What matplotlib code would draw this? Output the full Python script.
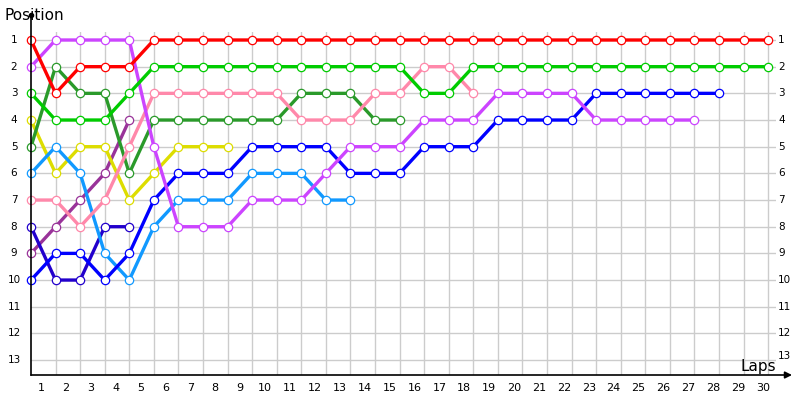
'''
Lap chart: position of each car after every lap.
'''

import matplotlib
matplotlib.use('Agg')
import numpy as np
from matplotlib import pyplot as plt

######################

# position after each lap, starting at lap 0 (grid)
red = [1, 3, 2, 2, 2, 1, 1, 1, 1, 1, 1, 1, 1, 1, 1, 1, 1, 1, 1, 1, 1, 1, 1, 1, 1, 1, 1, 1, 1, 1, 1]
light_green = [3, 4, 4, 4, 3, 2, 2, 2, 2, 2, 2, 2, 2, 2, 2, 2, 3, 3, 2, 2, 2, 2, 2, 2, 2, 2, 2, 2, 2, 2, 2]
pink = [7, 7, 8, 7, 5, 3, 3, 3, 3, 3, 3, 4, 4, 4, 3, 3, 2, 2, 3]
dark_green = [5, 2, 3, 3, 6, 4, 4, 4, 4, 4, 4, 3, 3, 3, 4, 4]
purple = [2, 1, 1, 1, 1, 5, 8, 8, 8, 7, 7, 7, 6, 5, 5, 5, 4, 4, 4, 3, 3, 3, 3, 4, 4, 4, 4, 4]
blue = [10, 9, 9, 10, 9, 7, 6, 6, 6, 5, 5, 5, 5, 6, 6, 6, 5, 5, 5, 4, 4, 4, 4, 3, 3, 3, 3, 3, 3]
dark_blue = [8, 10, 10, 8, 8]
light_blue = [6, 5, 6, 9, 10, 8, 7, 7, 7, 6, 6, 6, 7, 7]
yellow = [4, 6, 5, 5, 7, 6, 5, 5, 5]
dark_purple = [9, 8, 7, 6, 4]

n_laps = 30
n_pos = 13

series = [
    (dark_purple, '#993399'),
    (dark_blue, '#2200cc'),
    (yellow, '#dddd00'),
    (light_blue, '#1199ff'),
    (dark_green, '#2a9a2a'),
    (pink, '#ff88aa'),
    (blue, '#0000ff'),
    (purple, '#cc44ff'),
    (light_green, '#00cc00'),
    (red, '#ff0000'),
]

fig = plt.figure(figsize=(8, 4), dpi=100)
ax = fig.add_axes([31/800, 1 - 375/400, (776 - 31)/800, (375 - 32)/400])

ax.set_xlim(0, 30.32)
ax.set_ylim(13.56, 0.7)

# grid
for lap in range(1, n_laps + 1):
    ax.axvline(lap, color='#cccccc', lw=1, zorder=0)
for p in range(1, n_pos + 1):
    ax.axhline(p, color='#cccccc', lw=1, zorder=0)

for pos, c in series:
    laps = np.arange(len(pos))
    ax.plot(laps, pos, color=c, lw=2.4, marker='o', ms=6, mfc='white',
            mec=c, mew=0.9, clip_on=False, zorder=3)

for s in ax.spines.values():
    s.set_visible(False)
ax.set_xticks([])
ax.set_yticks([])

# axes drawn by hand (arrow on x, dot on y)
fig.add_artist(plt.Line2D([31/800, 31/800], [1 - 375/400, 1 - 15/400],
                          color='black', lw=1.2))
fig.add_artist(plt.Line2D([31/800], [1 - 15/400], marker='o', ms=3,
                          color='black'))
ax.annotate('', xy=(792/800, 1 - 375/400), xytext=(31/800, 1 - 375/400),
            xycoords='figure fraction', textcoords='figure fraction',
            arrowprops=dict(arrowstyle='-|>', color='black', lw=1.2,
                            mutation_scale=10, shrinkA=0, shrinkB=0))

# tick labels
for p in range(1, n_pos + 1):
    y = 1 - (40 + (p - 1) * 26.67)/400
    fig.text(14/800, y, str(p), ha='center', va='center', fontsize=7.5)
    if p == n_pos:
        y = 1 - 356/400
    fig.text(778/800, y, str(p), ha='left', va='center', fontsize=7.5)
for lap in range(1, n_laps + 1):
    x = (41 + (lap - 1) * 24.9)/800
    fig.text(x, 1 - 388/400, str(lap), ha='center', va='center', fontsize=8)

fig.text(5/800, 1 - 15/400, 'Position', ha='left', va='center', fontsize=11)
fig.text(776/800, 1 - 366/400, 'Laps', ha='right', va='center', fontsize=11)

fig.savefig('out.png', dpi=100)
